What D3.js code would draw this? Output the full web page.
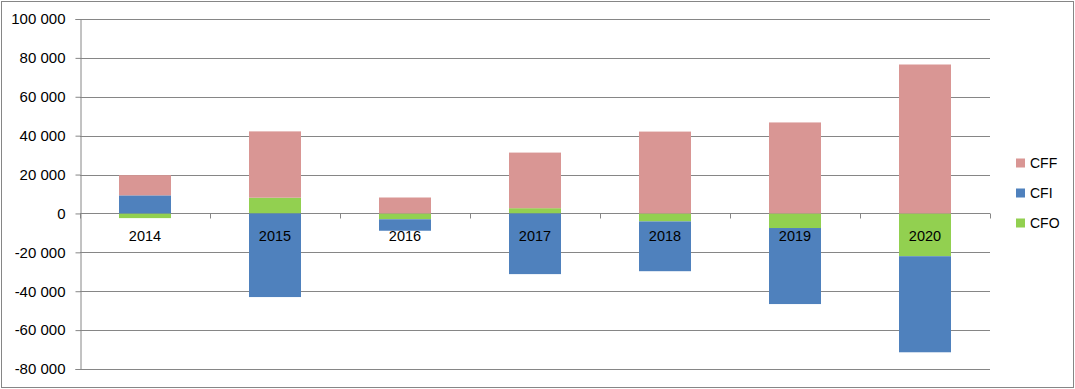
<!DOCTYPE html>
<html lang="en">
<head>
    <meta charset="UTF-8">
    <title>Cash flows</title>
    <script src="https://cdnjs.cloudflare.com/ajax/libs/d3/7.8.5/d3.min.js"></script>
    <style>
        body { margin: 0; background: #fff; }
        text { font-family: "Liberation Sans", Arial, sans-serif; fill: #000; }
    </style>
</head>
<body>
    <div id="chart"></div>
    <script>
        // data
        var years = ['2014', '2015', '2016', '2017', '2018', '2019', '2020'];
        var cfo = [-2400, 8100, -3000, 2700, -4100, -7500, -22000];
        var cfi = [9300, -43000, -5900, -31200, -25600, -39100, -49400];
        var cff = [10400, 34100, 8200, 28600, 42100, 46800, 76600];
        var yTicks = [-80000, -60000, -40000, -20000, 0, 20000, 40000, 60000, 80000, 100000];

        function drawChart() {
            var keys = ['CFO', 'CFI', 'CFF'];
            var colour = { CFO: '#92D050', CFI: '#4F81BD', CFF: '#D99694' };

            var rows = years.map(function (y, i) {
                return { year: y, CFO: cfo[i], CFI: cfi[i], CFF: cff[i] };
            });

            var width = 1075, height = 389;
            var plotLeft = 80, plotRight = 990, plotTop = 19, plotBottom = 369;

            var svg = d3.select('#chart').append('svg')
                .attr('width', width)
                .attr('height', height);

            svg.append('rect')
                .attr('x', 1.5).attr('y', 1.5)
                .attr('width', width - 3).attr('height', height - 3)
                .attr('fill', '#fff')
                .attr('stroke', '#868686');

            var x = d3.scaleBand()
                .domain(years)
                .range([plotLeft, plotRight])
                .paddingInner(0.6)
                .paddingOuter(0.3);

            var y = d3.scaleLinear()
                .domain([-80000, 100000])
                .range([plotBottom, plotTop]);

            var locale = d3.formatLocale({ decimal: ',', thousands: ' ', grouping: [3], currency: ['', ''], minus: '-' });
            var fmt = locale.format(',d');

            // gridlines
            svg.append('g')
                .selectAll('line')
                .data(yTicks)
                .enter()
                .append('line')
                .attr('x1', plotLeft)
                .attr('x2', plotRight)
                .attr('y1', function (d) { return Math.round(y(d)) + 0.5; })
                .attr('y2', function (d) { return Math.round(y(d)) + 0.5; })
                .attr('stroke', '#868686');

            // stacked bars
            var series = d3.stack()
                .keys(keys)
                .offset(d3.stackOffsetDiverging)(rows);

            svg.append('g')
                .selectAll('g')
                .data(series)
                .enter()
                .append('g')
                .attr('fill', function (d) { return colour[d.key]; })
                .selectAll('rect')
                .data(function (d) { return d; })
                .enter()
                .append('rect')
                .attr('x', function (d) { return x(d.data.year); })
                .attr('width', x.bandwidth())
                .attr('y', function (d) { return y(Math.max(d[0], d[1])); })
                .attr('height', function (d) { return Math.abs(y(d[0]) - y(d[1])); });

            // value axis
            var yAxis = svg.append('g')
                .attr('transform', 'translate(' + (plotLeft + 0.5) + ',0)')
                .call(d3.axisLeft(y).tickValues(yTicks).tickFormat(fmt).tickSize(5).tickPadding(10));
            yAxis.select('.domain').attr('stroke', '#868686');
            yAxis.selectAll('.tick line').attr('stroke', '#868686');
            yAxis.selectAll('.tick text')
                .style('font-size', '15px')
                .style('font-family', '"Liberation Sans", Arial, sans-serif');

            // category axis along zero
            var zeroY = Math.round(y(0)) + 0.5;
            var bounds = d3.range(years.length + 1).map(function (i) { return plotLeft + i * x.step(); });
            svg.append('g')
                .selectAll('line')
                .data(bounds)
                .enter()
                .append('line')
                .attr('x1', function (d) { return Math.round(d) + 0.5; })
                .attr('x2', function (d) { return Math.round(d) + 0.5; })
                .attr('y1', zeroY)
                .attr('y2', zeroY + 5)
                .attr('stroke', '#868686');

            svg.append('g')
                .selectAll('text')
                .data(years)
                .enter()
                .append('text')
                .attr('x', function (d) { return x(d) + x.bandwidth() / 2; })
                .attr('y', zeroY + 22)
                .attr('dy', '0.35em')
                .attr('text-anchor', 'middle')
                .style('font-size', '14.5px')
                .text(function (d) { return d; });

            // legend, reversed like the stack
            var legend = svg.append('g')
                .selectAll('g')
                .data(keys.slice().reverse())
                .enter()
                .append('g')
                .attr('transform', function (d, i) { return 'translate(1016,' + (163 + i * 30) + ')'; });

            legend.append('rect')
                .attr('y', -4.5)
                .attr('width', 9)
                .attr('height', 9)
                .attr('fill', function (d) { return colour[d]; });

            legend.append('text')
                .attr('x', 14)
                .attr('dy', '0.35em')
                .style('font-size', '14px')
                .text(function (d) { return d; });
        }
        drawChart();
    </script>
</body>
</html>
